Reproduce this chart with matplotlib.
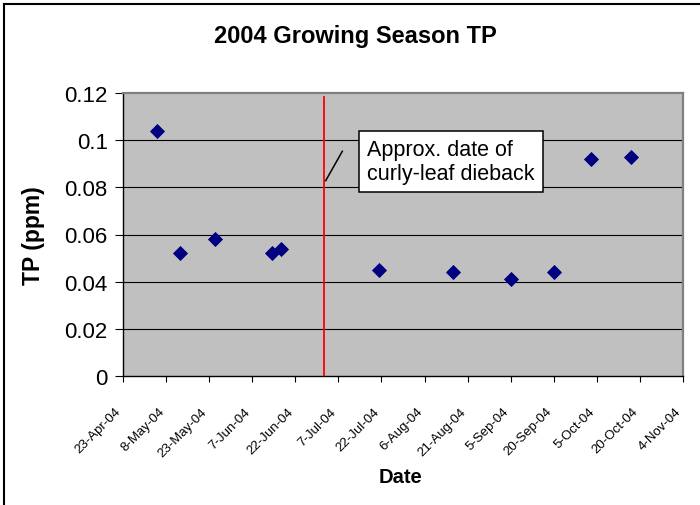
import matplotlib
matplotlib.use("Agg")
import matplotlib.pyplot as plt
from matplotlib.lines import Line2D
from matplotlib.transforms import ScaledTranslation
import datetime as dt

plt.rcParams['font.family'] = ['Liberation Sans', 'DejaVu Sans']

# Sample dates and total phosphorus concentrations (ppm)
sample_dates = ["2004-05-05", "2004-05-13", "2004-05-25", "2004-06-14", "2004-06-17",
                "2004-07-21", "2004-08-16", "2004-09-05", "2004-09-20", "2004-10-03",
                "2004-10-17"]
tp_ppm = [0.104, 0.052, 0.058, 0.052, 0.054, 0.045, 0.044, 0.0413, 0.044, 0.092, 0.093]

dieback_date = "2004-07-02"

x_tick_dates = ["2004-04-23", "2004-05-08", "2004-05-23", "2004-06-07", "2004-06-22",
                "2004-07-07", "2004-07-22", "2004-08-06", "2004-08-21", "2004-09-05",
                "2004-09-20", "2004-10-05", "2004-10-20", "2004-11-04"]
x_tick_labels = ["23-Apr-04", "8-May-04", "23-May-04", "7-Jun-04", "22-Jun-04",
                 "7-Jul-04", "22-Jul-04", "6-Aug-04", "21-Aug-04", "5-Sep-04",
                 "20-Sep-04", "5-Oct-04", "20-Oct-04", "4-Nov-04"]
y_ticks = [0, 0.02, 0.04, 0.06, 0.08, 0.10, 0.12]
y_tick_labels = ["0", "0.02", "0.04", "0.06", "0.08", "0.1", "0.12"]


def to_date(s):
    return dt.datetime.strptime(s, "%Y-%m-%d")


xs = [to_date(d) for d in sample_dates]
xt = [to_date(d) for d in x_tick_dates]

W, H = 700, 506
fig = plt.figure(figsize=(W / 100, H / 100), dpi=100)
ax = fig.add_axes([123 / W, 1 - 377 / H, 560 / W, 283 / H])
ax.set_facecolor('#C0C0C0')

ax.set_xlim(xt[0], xt[-1])
ax.set_ylim(0, 0.12)

# horizontal gridlines
for yv in y_ticks[1:-1]:
    ax.axhline(yv, color='black', lw=0.8, zorder=1)

# data points
ax.plot(xs, tp_ppm, linestyle='none', marker='D', markersize=7,
        color='#000080', markeredgecolor='#000080', markeredgewidth=0.6, zorder=4)

# dieback marker line
ax.plot([to_date(dieback_date)] * 2, [0, 0.1185], color='#FF0000', lw=1.3, zorder=3)

# callout
ax.text(0.585, 0.758, "Approx. date of\ncurly-leaf dieback", transform=ax.transAxes,
        fontsize=15.5, ha='center', va='center', multialignment='left',
        linespacing=1.15, zorder=5,
        bbox=dict(boxstyle='square,pad=0.38', facecolor='white', edgecolor='black', lw=1.1))
ax.add_line(Line2D([(325.7 - 123) / 560, (342.3 - 123) / 560],
                   [(377 - 181.7) / 283, (377 - 152.3) / 283],
                   transform=ax.transAxes, color='black', lw=1.1, zorder=5))

# spines
ax.spines['left'].set_color('black')
ax.spines['bottom'].set_color('black')
ax.spines['left'].set_linewidth(1.0)
ax.spines['bottom'].set_linewidth(1.0)
for s in ('top', 'right'):
    ax.spines[s].set_color('#808080')
    ax.spines[s].set_linewidth(1.6)

ax.set_yticks(y_ticks)
ax.set_yticklabels(y_tick_labels, fontsize=16)
ax.tick_params(axis='y', direction='out', length=6, width=0.8, pad=5, color='black')

ax.set_xticks(xt)
ax.set_xticklabels(x_tick_labels, fontsize=9.5, rotation=45, ha='right', va='top',
                   rotation_mode='anchor')
ax.tick_params(axis='x', direction='out', length=4, width=0.8, pad=17, color='black')
shift = ScaledTranslation(-8 / 100, 0, fig.dpi_scale_trans)
for lbl in ax.get_xticklabels():
    lbl.set_transform(lbl.get_transform() + shift)

fig.text(355 / W, 1 - 37 / H, "2004 Growing Season TP", fontsize=17, fontweight='bold',
         ha='center', va='center')
ax.set_ylabel("TP (ppm)", fontsize=16.5, fontweight='bold', labelpad=14)
fig.text(401 / W, 1 - 478 / H, "Date", fontsize=14.5, fontweight='bold',
         ha='center', va='center')

# outer chart border (top and left edges)
fig.add_artist(Line2D([4 / W, 1.0], [1 - 5 / H, 1 - 5 / H], transform=fig.transFigure,
                      color='black', lw=1.5))
fig.add_artist(Line2D([4 / W, 4 / W], [0, 1 - 5 / H], transform=fig.transFigure,
                      color='black', lw=1.5))

fig.savefig("out.png", dpi=100)
